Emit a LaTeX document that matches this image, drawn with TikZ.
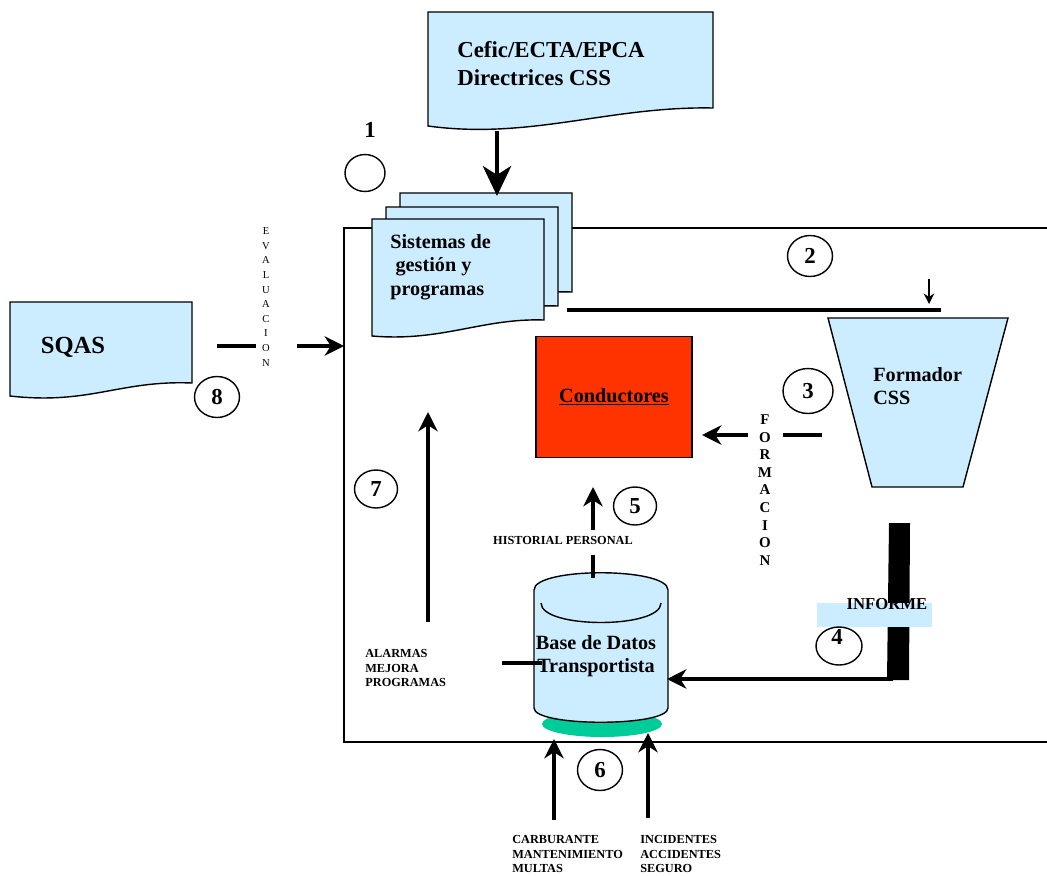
\documentclass[tikz,border=0pt]{standalone}
\usepackage{fontspec}
\setmainfont{Liberation Serif}
\usepackage{xcolor}
\usetikzlibrary{arrows.meta,positioning,shapes.geometric,calc}

\definecolor{docblue}{RGB}{204,236,255}
\definecolor{condred}{RGB}{255,51,0}
\definecolor{basegreen}{RGB}{0,204,153}

\begin{document}
\begin{tikzpicture}[x=0.02cm, y=-0.02cm,
  doc/.style={draw, thick, fill=docblue},
  numcirc/.style={draw, thick, ellipse, inner sep=0pt, minimum width=0.9cm, minimum height=0.82cm, font=\fontsize{13}{13}\selectfont\bfseries},
  bigtxt/.style={inner sep=0pt, align=left, font=\fontsize{11.5}{13.5}\selectfont\bfseries},
  smalltxt/.style={inner sep=0pt, align=left, font=\fontsize{7}{8.5}\selectfont\bfseries},
  flow/.style={line width=2.2pt, -{Stealth[length=11pt, width=11pt, inset=3.5pt]}},
  bar/.style={line width=2.2pt}
]
\useasboundingbox (0,0) rectangle (1047,875);

% Frame of the company
\coordinate (fTL) at (344,228);
\coordinate (fBL) at (344,742);
\coordinate (fTR) at (1047,228);
\coordinate (fBR) at (1047,742);
\draw[line width=0.9pt] (fTR) -- (fTL) -- (fBL) -- (fBR);

% Cefic document
\draw[doc] (428,12) -- (713,12) -- (713,108) .. controls (610,106) and (530,140) .. (428,126) -- cycle;
\node[bigtxt, font=\fontsize{13}{16}\selectfont\bfseries, anchor=west] (cefic) at (457,64) {Cefic/ECTA/EPCA\\Directrices CSS};

% Stacked documents
\draw[doc] (400,193) -- (572,193) -- (572,292) .. controls (510,290) and (470,312) .. (400,305) -- cycle;
\draw[doc] (386,207) -- (558,207) -- (558,306) .. controls (496,304) and (456,326) .. (386,319) -- cycle;
\draw[doc] (372,219) -- (544,219) -- (544,320) .. controls (482,318) and (442,342) .. (372,336) -- cycle;
\node[bigtxt, anchor=west] (sis) at (390,267) {Sistemas de\\\hspace{3pt}gesti\'on y\\programas};

\coordinate (ceficbot) at (497,131);
\coordinate (sistop) at (497,196);
\draw[line width=2.8pt, -{Stealth[length=17pt, width=16pt, inset=5pt]}] (ceficbot) -- (sistop);

\node[font=\fontsize{13}{13}\selectfont\bfseries] (n1) at (370,130) {1};
\node[numcirc, minimum width=0.8cm, minimum height=0.74cm] (c1) at (365,173) {};

% SQAS
\draw[doc] (10,302) -- (192,302) -- (192,383) .. controls (120,380) and (90,405) .. (10,396) -- cycle;
\node[inner sep=0pt, font=\fontsize{14}{14}\selectfont\bfseries] (sqas) at (73,347) {SQAS};
\node[numcirc] (c8) at (217,397) {8};
\node[inner sep=0pt, align=center, font=\fontsize{6}{8.3}\selectfont] (eval) at (266,297) {E\\V\\A\\L\\U\\A\\C\\I\\O\\N};
\coordinate (evA) at (217,346);
\coordinate (evB) at (256,346);
\coordinate (evC) at (297,346);
\coordinate (evD) at (344,346);
\draw[bar] (evA) -- (evB);
\draw[flow] (evC) -- (evD);

% Link to Formador
\coordinate (lkA) at (567,310);
\coordinate (lkB) at (941,310);
\draw[bar] (lkA) -- (lkB);
\coordinate (dwA) at (929,279);
\coordinate (dwB) at (929,304);
\draw[thick, -{Stealth[length=6pt, width=6pt, inset=2pt]}] (dwA) -- (dwB);
\node[numcirc] (c2) at (810,256) {2};

% Formador CSS
\draw[doc] (828,318) -- (1008,318) -- (963,487) -- (872,487) -- cycle;
\node[bigtxt, anchor=west] (form) at (873,386) {Formador\\CSS};
\node[numcirc, minimum width=1cm, minimum height=0.9cm] (c3) at (808,391) {3};

% Conductores
\node[draw, thick, fill=condred, minimum width=3.12cm, minimum height=2.42cm, font=\fontsize{11.5}{13}\selectfont\bfseries] (cond) at (614,397) {\underline{Conductores}};
\node[inner sep=0pt, align=center, font=\fontsize{8.5}{10}\selectfont\bfseries] (formac) at (765,490) {F\\O\\R\\M\\A\\C\\I\\O\\N};
\coordinate (foA) at (822,435);
\coordinate (foB) at (783,435);
\coordinate (foC) at (748,435);
\coordinate (foD) at (702,435);
\draw[bar] (foA) -- (foB);
\draw[flow] (foC) -- (foD);

% Informe bar
\fill (889,523) -- (910,523) -- (909,680) -- (887,680) -- cycle;
\fill[docblue] (817,603) rectangle (932,627);
\node[inner sep=0pt, font=\fontsize{9.5}{9.5}\selectfont\bfseries] (inf) at (887,604) {INFORME};
\node[numcirc, minimum width=0.92cm, minimum height=0.76cm] (c4) at (839,646) {};
\node[inner sep=0pt, font=\fontsize{13}{13}\selectfont\bfseries] (n4) at (837,637) {4};

% Database
\fill[basegreen] (602,724) circle[x radius=60, y radius=13];
\draw[thick, fill=docblue] (534,708) -- (534,590) .. controls (534,567) and (668,567) .. (668,590) -- (668,708) .. controls (668,727) and (534,727) .. (534,708) -- cycle;
\draw[thick] (541,603) .. controls (541,629) and (661,629) .. (661,603);
\node[inner sep=0pt, align=center, font=\fontsize{11.5}{13}\selectfont\bfseries] (bd) at (596,656) {Base de Datos\\Transportista};

\coordinate (infA) at (893,679);
\coordinate (bdE) at (667,679);
\draw[line width=2pt, -{Stealth[length=11pt, width=11pt, inset=3.5pt]}] (infA) -- (bdE);

% Historial
\coordinate (hiA) at (593,530);
\coordinate (hiB) at (593,487);
\coordinate (hiC) at (593,555);
\coordinate (hiD) at (593,578);
\draw[flow] (hiA) -- (hiB);
\draw[bar] (hiC) -- (hiD);
\node[smalltxt] (hist) at (563,540) {HISTORIAL PERSONAL};
\node[numcirc, minimum width=0.86cm, minimum height=0.76cm] (c5) at (635,506) {5};

% Alarmas
\coordinate (alA) at (428,622);
\coordinate (alB) at (428,412);
\draw[flow] (alA) -- (alB);
\node[numcirc, minimum width=0.86cm, minimum height=0.76cm] (c7) at (376,489) {7};
\node[smalltxt, anchor=west] (alarm) at (365,668) {ALARMAS\\MEJORA\\PROGRAMAS};
\coordinate (sgA) at (502,663);
\coordinate (sgB) at (542,663);
\draw[bar] (sgA) -- (sgB);

% Inputs below
\coordinate (inA) at (554,820);
\coordinate (inB) at (554,739);
\coordinate (inC) at (648,818);
\coordinate (inD) at (648,733);
\draw[flow] (inA) -- (inB);
\draw[flow] (inC) -- (inD);
\node[numcirc] (c6) at (600,770) {6};
\node[smalltxt, anchor=west] (carb) at (512,854) {CARBURANTE\\MANTENIMIENTO\\MULTAS};
\node[smalltxt, anchor=west] (inci) at (640,854) {INCIDENTES\\ACCIDENTES\\SEGURO};

\end{tikzpicture}
\end{document}
